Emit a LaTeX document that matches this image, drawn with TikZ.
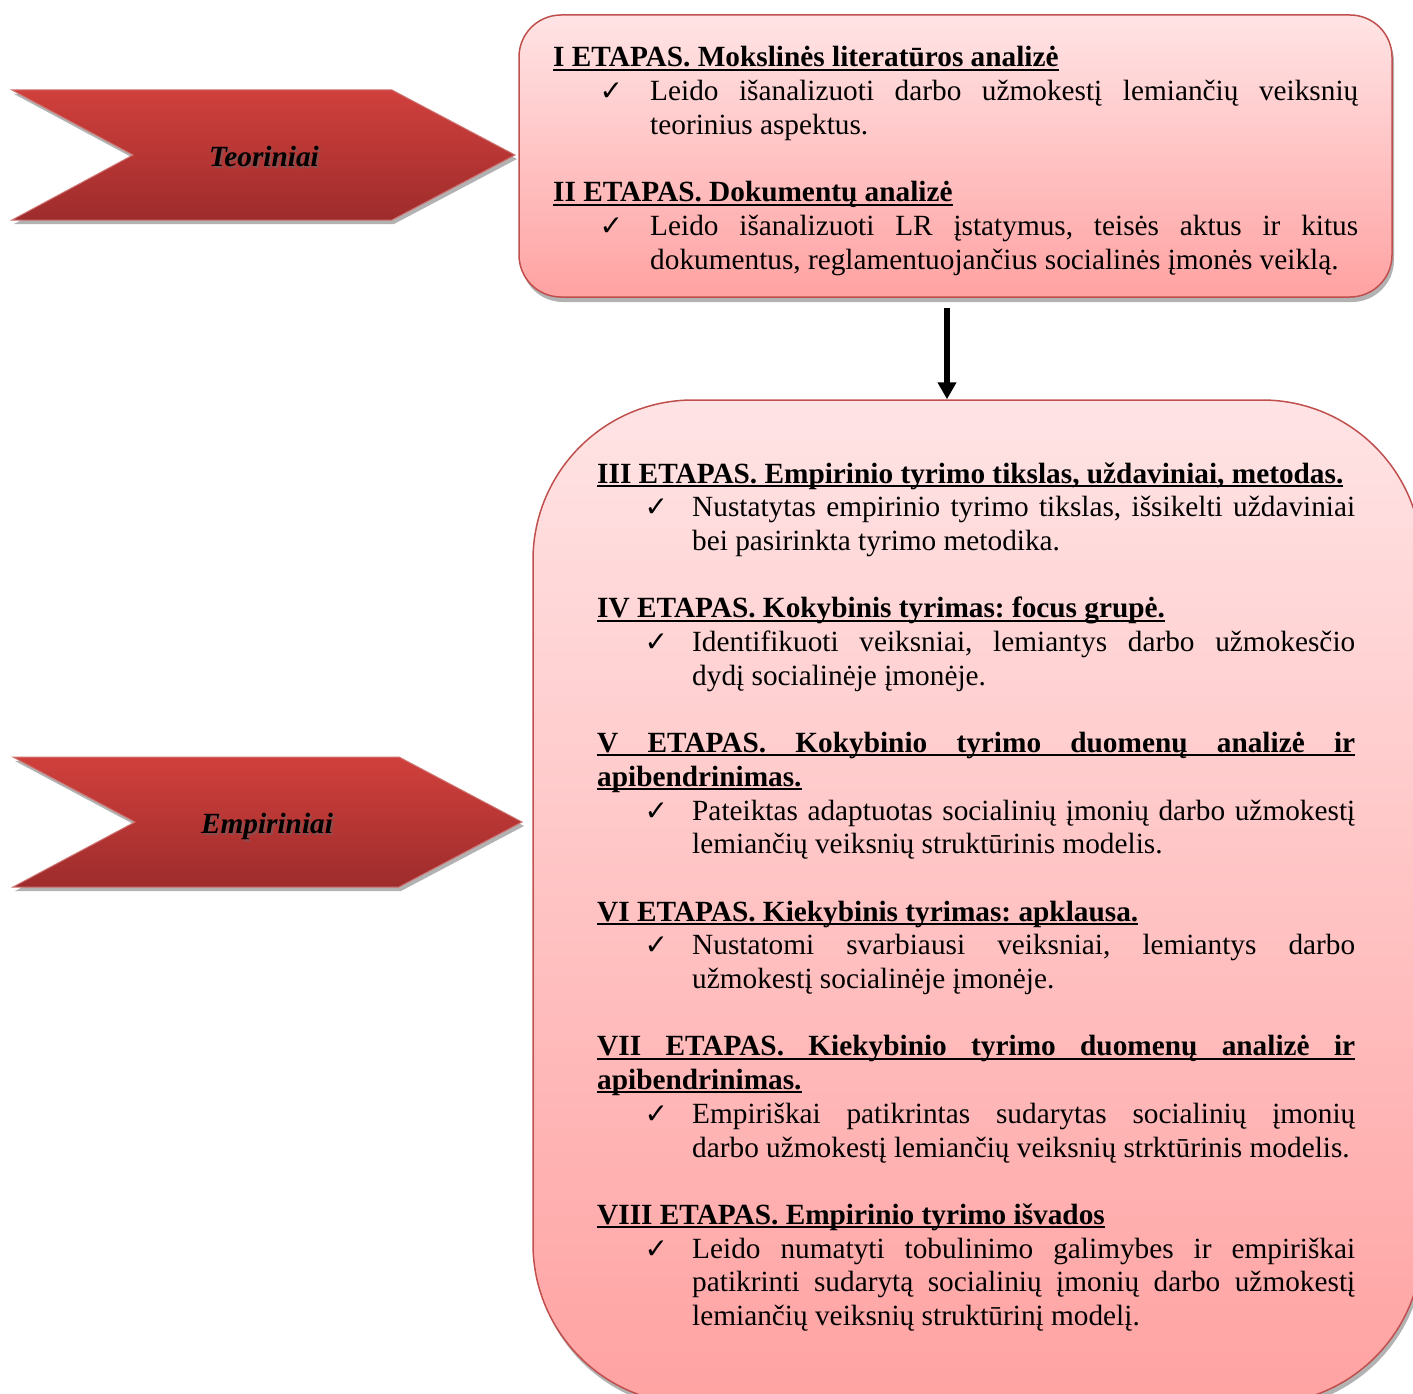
\documentclass[tikz,border=0pt]{standalone}
\usepackage{fontspec}
\setmainfont{Liberation Serif}
\newfontfamily\symfont{DejaVu Sans}
\usetikzlibrary{shadows,arrows.meta}
\definecolor{boxtop}{RGB}{255,228,229}
\definecolor{boxbot}{RGB}{255,162,162}
\definecolor{boxline}{RGB}{192,80,77}
\definecolor{chevtop}{RGB}{208,64,60}
\definecolor{chevbot}{RGB}{158,44,44}
\newcommand\myul[1]{\leavevmode\setbox0=\hbox{#1}\rlap{\rule[-3.8pt]{\wd0}{2pt}}\box0}
\newcommand\chk[1]{\leavevmode\llap{{\symfont\fontsize{28}{30}\selectfont ✓}\hspace{#1pt}}}
\newcommand\txtsetup{\fontsize{29.3}{33.7}\selectfont\parindent=0pt\frenchspacing
  \tolerance=10000\pretolerance=-1\hyphenpenalty=10000\exhyphenpenalty=10000
  \parfillskip=0pt plus 1fil\relax}
\begin{document}
\begin{tikzpicture}[x=1pt,y=-1pt,
  stagebox/.style={draw=boxline, line width=1.5pt, top color=boxtop, bottom color=boxbot,
    inner sep=0pt,
    drop shadow={shadow xshift=2pt, shadow yshift=-5pt, opacity=0.3, fill=black}},
  chevron/.style={draw=boxline!80!white, line width=1pt, top color=chevtop, bottom color=chevbot,
    drop shadow={shadow xshift=2pt, shadow yshift=-4pt, opacity=0.3, fill=black}},
  chevlabel/.style={font=\fontsize{29.3}{34}\selectfont\bfseries\itshape, inner sep=0pt, anchor=base},
  textblock/.style={anchor=base west, inner sep=0pt}]
\useasboundingbox (0,0) rectangle (1413,1394);

% chevrons
\path[chevron] (12,90) -- (392,90) -- (515,155) -- (392,220) -- (12,220) -- (133,155) -- cycle;
\node[chevlabel, text=black!60, opacity=0.5] (teorsh) at (266,168) {Teoriniai};
\node[chevlabel] (teor) at (264,166) {Teoriniai};

\path[chevron] (13,757) -- (399,757) -- (522,822) -- (399,887) -- (13,887) -- (135,822) -- cycle;
\node[chevlabel, text=black!60, opacity=0.5] (empsh) at (269,835) {Empiriniai};
\node[chevlabel] (emp) at (267,833) {Empiriniai};

% boxes
\node[stagebox, rounded corners=42pt, minimum width=873pt, minimum height=282pt] (topbox) at (955.5,156) {};
\node[stagebox, rounded corners=160pt, minimum width=889pt, minimum height=1004pt] (bigbox) at (977.5,902) {};

% arrow
\coordinate (astart) at (947,308);
\draw[line width=6pt, -{Triangle[length=17pt,width=18pt]}] (astart) -- (astart |- bigbox.north);

% top text
\node[textblock] (toptext) at (553,67) {\vtop{\hsize=805pt \txtsetup
\myul{\bfseries I ETAPAS. Mokslinės literatūros analizė}\par
{\leftskip=97pt \chk{27}Leido išanalizuoti darbo užmokestį lemiančių veiksnių\linebreak teorinius aspektus.\par}
\vskip 33.7pt
\myul{\bfseries II ETAPAS. Dokumentų analizė}\par
{\leftskip=97pt \chk{27}Leido išanalizuoti LR įstatymus, teisės aktus ir kitus\linebreak dokumentus, reglamentuojančius socialinės įmonės veiklą.\par}
}};

% big text
\node[textblock] (bigtext) at (597,483) {\vtop{\hsize=758pt \txtsetup
\myul{\bfseries III ETAPAS. Empirinio tyrimo tikslas, uždaviniai, metodas.}\par
{\leftskip=95pt \chk{24}Nustatytas empirinio tyrimo tikslas, išsikelti uždaviniai\linebreak bei pasirinkta tyrimo metodika.\par}
\vskip 33.7pt
\myul{\bfseries IV ETAPAS. Kokybinis tyrimas: focus grupė.}\par
{\leftskip=95pt \chk{24}Identifikuoti veiksniai, lemiantys darbo užmokesčio\linebreak dydį socialinėje įmonėje.\par}
\vskip 33.7pt
\myul{\hbox to \hsize{\bfseries V ETAPAS. Kokybinio tyrimo duomenų analizė ir}}\par
\myul{\bfseries apibendrinimas.}\par
{\leftskip=95pt \chk{24}Pateiktas adaptuotas socialinių įmonių darbo užmokestį\linebreak lemiančių veiksnių struktūrinis modelis.\par}
\vskip 33.7pt
\myul{\bfseries VI ETAPAS. Kiekybinis tyrimas: apklausa.}\par
{\leftskip=95pt \chk{24}Nustatomi svarbiausi veiksniai, lemiantys darbo\linebreak užmokestį socialinėje įmonėje.\par}
\vskip 33.7pt
\myul{\hbox to \hsize{\bfseries VII ETAPAS. Kiekybinio tyrimo duomenų analizė ir}}\par
\myul{\bfseries apibendrinimas.}\par
{\leftskip=95pt \chk{24}Empiriškai patikrintas sudarytas socialinių įmonių\linebreak darbo užmokestį lemiančių veiksnių strktūrinis modelis.\par}
\vskip 33.7pt
\myul{\bfseries VIII ETAPAS. Empirinio tyrimo išvados}\par
{\leftskip=95pt \chk{24}Leido numatyti tobulinimo galimybes ir empiriškai\linebreak patikrinti sudarytą socialinių įmonių darbo užmokestį\linebreak lemiančių veiksnių struktūrinį modelį.\par}
}};
\end{tikzpicture}
\end{document}
